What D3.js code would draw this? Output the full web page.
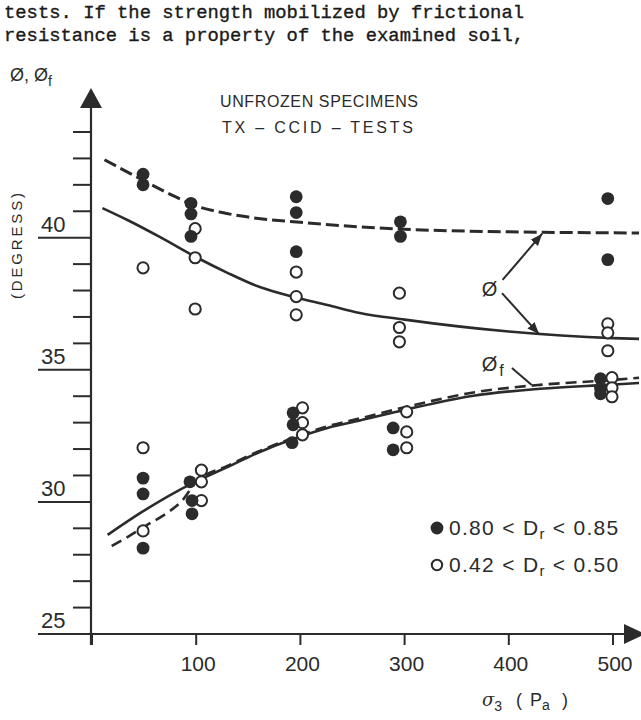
<!DOCTYPE html>
<html><head><meta charset="utf-8">
<script src="https://cdn.jsdelivr.net/npm/d3@7"></script>
<style>body{margin:0;background:#fff}svg{display:block}</style>
</head><body>
<script>
// ---------- DATA ----------
const headerLines = ["tests. If the strength mobilized by frictional",
                     "resistance is a property of the examined soil,"];
const titleLines = ["UNFROZEN SPECIMENS", "TX  –  CCID  –  TESTS"];
const xTicks = [100, 200, 300, 400, 500];
const yMajor = [25, 30, 35, 40];
const yMinor = [26, 27, 28, 29, 31, 32, 33, 34, 36, 37, 38, 39, 41, 42, 43, 44];

// filled circles: 0.80 < Dr < 0.85
const denseSigma = [49, 49, 49, 49, 49,
                    95, 95, 95, 94, 96, 96,
                    196, 196, 196, 193, 193, 192,
                    296, 296, 289, 289,
                    495, 495, 488, 488, 488];
const densePhi   = [42.4, 42.0, 30.9, 30.3, 28.25,
                    41.3, 40.9, 40.05, 30.76, 30.05, 29.55,
                    41.55, 40.95, 39.47, 33.37, 32.92, 32.24,
                    40.6, 40.05, 32.8, 31.97,
                    41.48, 39.17, 34.66, 34.3, 34.09];
// open circles: 0.42 < Dr < 0.50
const looseSigma = [49, 49, 49,
                    99, 99, 99, 105, 105, 105,
                    196, 196, 196, 202, 202, 202,
                    295, 295, 295, 302, 302, 302,
                    495, 495, 495, 499, 499, 499];
const loosePhi   = [38.86, 32.05, 28.9,
                    40.34, 39.24, 37.3, 31.2, 30.76, 30.05,
                    38.7, 37.77, 37.08, 33.56, 33.0, 32.54,
                    37.9, 36.6, 36.06, 33.41, 32.65, 32.05,
                    36.74, 36.4, 35.72, 34.7, 34.32, 33.98];

// fitted curves
const phiDenseSigma = [12, 50, 80, 100, 125, 150, 200, 300, 400, 525];
const phiDenseVal   = [42.95, 42.15, 41.55, 41.2, 40.95, 40.78, 40.58, 40.32, 40.22, 40.18];
const phiLooseSigma = [10, 34, 65, 101, 130, 161, 193, 226, 257, 300, 400, 500, 525];
const phiLooseVal   = [41.12, 40.67, 40.03, 39.24, 38.67, 38.13, 37.76, 37.45, 37.15, 36.9, 36.45, 36.2, 36.17];
const phifSolidSigma = [15, 48, 97, 130, 161, 193, 226, 257, 302, 366, 430, 494, 525];
const phifSolidVal   = [28.75, 29.62, 30.72, 31.32, 31.89, 32.38, 32.8, 33.08, 33.5, 34.02, 34.28, 34.43, 34.5];
const phifDashSigma  = [19, 34, 53, 72, 87, 100, 130, 161, 193, 226, 257, 302, 366, 430, 494, 525];
const phifDashVal    = [28.33, 28.67, 29.13, 29.58, 30.07, 30.76, 31.36, 31.93, 32.42, 32.86, 33.16, 33.6, 34.14, 34.43, 34.6, 34.7];

const legendLabels = [["0.80 < D", "r", " < 0.85"], ["0.42 < D", "r", " < 0.50"]];

// ---------- DRAW ----------
const W = 641, H = 720, ink = "#2b2b2b";
const svg = d3.select("body").append("svg").attr("width", W).attr("height", H)
  .style("background", "#fff");

const x = d3.scaleLinear().domain([0, 500]).range([92, 613]);
const y = d3.scaleLinear().domain([25, 44]).range([634, 132]);

// header typewriter text
svg.selectAll("text.hdr").data(headerLines).enter().append("text")
  .attr("class", "hdr").attr("x", 4).attr("y", (d, i) => 18 + i * 23)
  .attr("textLength", 520).attr("lengthAdjust", "spacingAndGlyphs")
  .style("font-family", "'Liberation Mono', 'DejaVu Sans Mono', monospace")
  .style("font-size", "19px").style("fill", "#1a1a1a")
  .style("stroke", "#1a1a1a").style("stroke-width", 0.35)
  .text(d => d);

const sans = "'Liberation Sans', Arial, sans-serif";

// axes
const ax = svg.append("g").attr("stroke", ink).attr("fill", "none");
ax.append("line").attr("x1", 91).attr("x2", 91).attr("y1", 645).attr("y2", 100).attr("stroke-width", 2.2);
ax.append("line").attr("x1", 38).attr("x2", 630).attr("y1", y(25)).attr("y2", y(25)).attr("stroke-width", 2.2);
svg.append("path").attr("d", "M91,88 L80,108 L102,108 Z").attr("fill", ink);
svg.append("path").attr("d", `M645,${y(25)} L624,${y(25) - 10} L624,${y(25) + 10} Z`).attr("fill", ink);

// y ticks
ax.selectAll("line.mn").data(yMinor).enter().append("line").attr("class", "mn")
  .attr("x1", 73).attr("x2", 91).attr("y1", d => y(d)).attr("y2", d => y(d)).attr("stroke-width", 2);
ax.selectAll("line.mj").data(yMajor).enter().append("line").attr("class", "mj")
  .attr("x1", 38).attr("x2", 91).attr("y1", d => y(d)).attr("y2", d => y(d)).attr("stroke-width", 2);
svg.selectAll("text.yl").data(yMajor).enter().append("text").attr("class", "yl")
  .attr("x", 41).attr("y", d => y(d) - 6)
  .style("font-family", sans).style("font-size", "22px").style("fill", ink)
  .text(d => d);

// x ticks
ax.selectAll("line.xt").data([0].concat(xTicks)).enter().append("line").attr("class", "xt")
  .attr("x1", d => x(d)).attr("x2", d => x(d)).attr("y1", y(25)).attr("y2", y(25) + 11).attr("stroke-width", 2);
svg.selectAll("text.xl").data(xTicks).enter().append("text").attr("class", "xl")
  .attr("x", d => x(d) + 2).attr("y", 671).attr("text-anchor", "middle")
  .style("font-family", sans).style("font-size", "21px").style("fill", ink)
  .text(d => d);

// axis titles
const yt = svg.append("text").attr("x", 10).attr("y", 81)
  .style("font-family", sans).style("font-size", "18px").style("fill", ink);
yt.append("tspan").text("Ø, Ø");
yt.append("tspan").attr("dy", 5).style("font-size", "14px").text("f");

svg.append("text").attr("transform", "translate(22,246) rotate(-90)")
  .attr("text-anchor", "middle").attr("textLength", 106).attr("lengthAdjust", "spacing")
  .style("font-family", sans).style("font-size", "15px").style("fill", ink)
  .text("(DEGRESS)");

const xt = svg.append("text").attr("x", 482).attr("y", 706)
  .style("font-family", sans).style("font-size", "18px").style("fill", ink);
xt.append("tspan").style("font-family", "'DejaVu Serif', serif").style("font-style", "italic").text("σ");
xt.append("tspan").attr("dy", 5).style("font-size", "14px").text("3");
xt.append("tspan").attr("dy", -5).attr("dx", 14).text("(");
xt.append("tspan").attr("dx", 8).text("P");
xt.append("tspan").attr("dy", 4).style("font-size", "14px").text("a");
xt.append("tspan").attr("dy", -4).attr("dx", 12).text(")");

// title
svg.selectAll("text.ttl").data(titleLines).enter().append("text").attr("class", "ttl")
  .attr("x", (d, i) => i ? 222 : 220).attr("y", (d, i) => 107 + i * 26)
  .attr("textLength", (d, i) => i ? 191 : 198).attr("lengthAdjust", "spacing")
  .style("font-family", sans).style("font-size", "16px").style("fill", ink)
  .text(d => d);

// curves
const line = d3.line().x(d => x(d[0])).y(d => y(d[1])).curve(d3.curveMonotoneX);
const zip = (a, b) => a.map((v, i) => [v, b[i]]);
const curves = [
  {pts: zip(phiDenseSigma, phiDenseVal), dash: "13,5", w: 3},
  {pts: zip(phiLooseSigma, phiLooseVal), dash: null, w: 2.6},
  {pts: zip(phifDashSigma, phifDashVal), dash: "11,6", w: 2.6},
  {pts: zip(phifSolidSigma, phifSolidVal), dash: null, w: 2.6}
];
svg.selectAll("path.crv").data(curves).enter().append("path").attr("class", "crv")
  .attr("d", d => line(d.pts)).attr("fill", "none").attr("stroke", ink)
  .attr("stroke-width", d => d.w).attr("stroke-dasharray", d => d.dash);

// annotations (positions in data space)
const arrowPairs = [[[394, 38.4], [432, 40.15]], [[393.5, 37.9], [429, 36.35]]];
const defs = svg.append("defs");
defs.append("marker").attr("id", "ah").attr("viewBox", "0 0 10 10").attr("refX", 10).attr("refY", 5)
  .attr("markerWidth", 6).attr("markerHeight", 6).attr("orient", "auto")
  .append("path").attr("d", "M0,1 L10,5 L0,9 Z").attr("fill", ink);
svg.selectAll("line.arr").data(arrowPairs).enter().append("line").attr("class", "arr")
  .attr("x1", d => x(d[0][0])).attr("y1", d => y(d[0][1]))
  .attr("x2", d => x(d[1][0])).attr("y2", d => y(d[1][1]))
  .attr("stroke", ink).attr("stroke-width", 2).attr("marker-end", "url(#ah)");
svg.append("text").attr("x", x(374)).attr("y", y(37.8))
  .style("font-family", sans).style("font-size", "20px").style("fill", ink).text("Ø");
const fl = svg.append("text").attr("x", x(374)).attr("y", y(34.95))
  .style("font-family", sans).style("font-size", "20px").style("fill", ink);
fl.append("tspan").text("Ø");
fl.append("tspan").attr("dy", 5).attr("dx", 2).style("font-size", "16px").text("f");
svg.append("line").attr("x1", x(403)).attr("y1", y(35.07)).attr("x2", x(422)).attr("y2", y(34.42))
  .attr("stroke", ink).attr("stroke-width", 2);

// points
svg.selectAll("circle.ld").data(zip(looseSigma, loosePhi)).enter().append("circle").attr("class", "ld")
  .attr("cx", d => x(d[0])).attr("cy", d => y(d[1])).attr("r", 5.6)
  .attr("fill", "#fff").attr("stroke", ink).attr("stroke-width", 2);
svg.selectAll("circle.dd").data(zip(denseSigma, densePhi)).enter().append("circle").attr("class", "dd")
  .attr("cx", d => x(d[0])).attr("cy", d => y(d[1])).attr("r", 6.4)
  .attr("fill", ink);

// legend
const lg = svg.selectAll("g.lg").data(legendLabels).enter().append("g").attr("class", "lg")
  .attr("transform", (d, i) => `translate(437,${528 + i * 37})`);
lg.append("circle").attr("r", (d, i) => i ? 5.2 : 6.4)
  .attr("fill", (d, i) => i ? "#fff" : ink).attr("stroke", ink).attr("stroke-width", (d, i) => i ? 2 : 0);
const lt = lg.append("text").attr("x", 12).attr("y", 7)
  .style("font-family", sans).style("font-size", "21px").style("letter-spacing", "1.3px").style("fill", ink);
lt.append("tspan").text(d => d[0]);
lt.append("tspan").attr("dy", 4).style("font-size", "15px").text(d => d[1]);
lt.append("tspan").attr("dy", -4).text(d => d[2]);
</script>
</body></html>
